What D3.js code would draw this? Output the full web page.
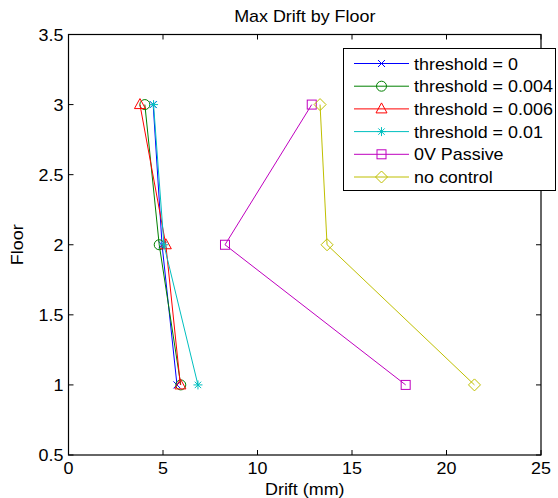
<!DOCTYPE html>
<html>
<head>
<meta charset="utf-8">
<script src="https://cdn.jsdelivr.net/npm/d3@7"></script>
<style>
  body { margin: 0; background: #fff; }
  text { font-family: "Liberation Sans", Arial, Helvetica, sans-serif; font-size: 16px; fill: #000; }
</style>
</head>
<body>
<svg id="chart" width="558" height="498"></svg>
<script>
// floors on the y axis
const floors = [3, 2, 1];

// max drift (mm) per floor, one array per case
const drift_t0 = [4.48, 4.95, 5.74];
const drift_t004 = [4.04, 4.8, 5.94];
const drift_t006 = [3.78, 5.15, 5.92];
const drift_t01 = [4.5, 5.05, 6.85];
const drift_passive = [12.87, 8.28, 17.84];
const drift_none = [13.31, 13.68, 21.48];

const seriesNames = ["threshold = 0", "threshold = 0.004", "threshold = 0.006", "threshold = 0.01", "0V Passive", "no control"];
const xTicks = [0, 5, 10, 15, 20, 25];
const yTicks = [0.5, 1, 1.5, 2, 2.5, 3, 3.5];

const series = [
  { name: seriesNames[0], vals: drift_t0, color: "#0000ff", marker: "x" },
  { name: seriesNames[1], vals: drift_t004, color: "#008000", marker: "circle" },
  { name: seriesNames[2], vals: drift_t006, color: "#ff0000", marker: "triangle" },
  { name: seriesNames[3], vals: drift_t01, color: "#00bfbf", marker: "star" },
  { name: seriesNames[4], vals: drift_passive, color: "#bf00bf", marker: "square" },
  { name: seriesNames[5], vals: drift_none, color: "#bfbf00", marker: "diamond" }
];

const svg = d3.select("#chart");
const pL = 68.5, pR = 541, pT = 34.5, pB = 455;
const sx = 1.12; // text is a bit wider than Liberation Sans

const x = d3.scaleLinear().domain([0, 25]).range([pL, pR]);
const y = d3.scaleLinear().domain([0.5, 3.5]).range([pB, pT]);

function label(g, tx, ty, str, anchor, rot) {
  return g.append("text")
    .attr("transform", `translate(${tx},${ty})` + (rot ? ` rotate(${rot})` : "") + ` scale(${sx},1)`)
    .attr("text-anchor", anchor)
    .text(str);
}

// box + inward ticks on all four sides
const ax = svg.append("g");
xTicks.forEach(t => {
  ax.append("line").attr("x1", x(t)).attr("x2", x(t)).attr("y1", pB).attr("y2", pB - 5).attr("stroke", "#000");
  ax.append("line").attr("x1", x(t)).attr("x2", x(t)).attr("y1", pT).attr("y2", pT + 5).attr("stroke", "#000");
  label(ax, x(t), pB + 19, t, "middle");
});
yTicks.forEach(t => {
  ax.append("line").attr("x1", pL).attr("x2", pL + 5).attr("y1", y(t)).attr("y2", y(t)).attr("stroke", "#000");
  ax.append("line").attr("x1", pR).attr("x2", pR - 5).attr("y1", y(t)).attr("y2", y(t)).attr("stroke", "#000");
  label(ax, pL - 5, y(t) + 6, t, "end");
});
ax.append("rect").attr("x", pL).attr("y", pT).attr("width", pR - pL).attr("height", pB - pT)
  .attr("fill", "none").attr("stroke", "#000").attr("stroke-width", 1.2);

label(svg, (pL + pR) / 2, 21.5, "Max Drift by Floor", "middle");
label(svg, (pL + pR) / 2, 495, "Drift (mm)", "middle");
label(svg, 23, (pT + pB) / 2, "Floor", "middle", -90);

function drawMarker(g, type, cx, cy, color) {
  const m = g.append("g").attr("transform", `translate(${cx},${cy})`)
    .attr("fill", "none").attr("stroke", color).attr("stroke-width", 1);
  if (type === "x") {
    m.append("path").attr("d", "M-3.5,-3.5L3.5,3.5M-3.5,3.5L3.5,-3.5");
  } else if (type === "circle") {
    m.append("circle").attr("r", 5);
  } else if (type === "triangle") {
    m.append("path").attr("d", "M0,-6L5.5,4L-5.5,4Z");
  } else if (type === "star") {
    m.append("path").attr("d", "M-4.5,0L4.5,0M0,-4.5L0,4.5M-3.2,-3.2L3.2,3.2M-3.2,3.2L3.2,-3.2");
  } else if (type === "square") {
    m.append("rect").attr("x", -4.5).attr("y", -4.5).attr("width", 9).attr("height", 9);
  } else if (type === "diamond") {
    m.append("path").attr("d", "M0,-6L6,0L0,6L-6,0Z");
  }
}

const line = d3.line().x(d => x(d[0])).y(d => y(d[1]));
const plot = svg.append("g");
series.forEach(s => {
  const pts = s.vals.map((v, i) => [v, floors[i]]);
  plot.append("path").attr("d", line(pts)).attr("fill", "none").attr("stroke", s.color).attr("stroke-width", 1);
  pts.forEach(p => drawMarker(plot, s.marker, x(p[0]), y(p[1]), s.color));
});

// legend
const leg = svg.append("g");
leg.append("rect").attr("x", 343.5).attr("y", 48.5).attr("width", 212).attr("height", 142)
  .attr("fill", "#fff").attr("stroke", "#000").attr("stroke-width", 1);
series.forEach((s, i) => {
  const ry = 63.5 + i * 22.7;
  leg.append("line").attr("x1", 354).attr("x2", 409).attr("y1", ry).attr("y2", ry).attr("stroke", s.color);
  drawMarker(leg, s.marker, 381.5, ry, s.color);
  label(leg, 414, ry + 6, s.name, "start");
});
</script>
</body>
</html>
